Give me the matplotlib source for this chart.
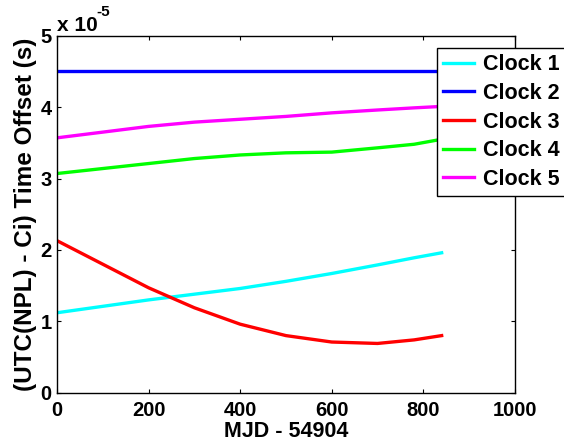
import numpy as np
import matplotlib.pyplot as plt
from matplotlib.ticker import FuncFormatter

plt.rcParams['font.family'] = ['Liberation Sans', 'DejaVu Sans']
plt.rcParams['font.weight'] = 'bold'

# days since MJD 54904
days = [0, 100, 200, 300, 400, 500, 600, 700, 780, 840]
# time offsets in units of 1e-5 s
clock1 = [1.12, 1.21, 1.30, 1.38, 1.46, 1.56, 1.67, 1.79, 1.89, 1.96]
clock2 = [4.50, 4.50, 4.50, 4.50, 4.50, 4.50, 4.50, 4.50, 4.50, 4.50]
clock3 = [2.13, 1.80, 1.47, 1.19, 0.96, 0.80, 0.71, 0.69, 0.74, 0.80]
clock4 = [3.07, 3.14, 3.21, 3.28, 3.33, 3.36, 3.37, 3.43, 3.48, 3.55]
clock5 = [3.57, 3.65, 3.73, 3.79, 3.83, 3.87, 3.92, 3.96, 3.99, 4.01]
labels = ['Clock 1', 'Clock 2', 'Clock 3', 'Clock 4', 'Clock 5']
colors = ['#00ffff', '#0000ff', '#ff0000', '#00ff00', '#ff00ff']

scale = 1e-5

fig = plt.figure(figsize=(5.64, 4.44), dpi=100)
ax = fig.add_axes([0.101, 0.1155, 0.812, 0.804])

for vals, lab, col in zip([clock1, clock2, clock3, clock4, clock5], labels, colors):
    ax.plot(days, np.array(vals) * scale, color=col, lw=2.4, label=lab)

ax.set_xlim(0, 1000)
ax.set_ylim(0, 5 * scale)
ax.set_xticks([0, 200, 400, 600, 800, 1000])
ax.set_yticks(np.arange(0, 6) * scale)
ax.yaxis.set_major_formatter(FuncFormatter(lambda v, p: '%d' % round(v / scale)))
ax.tick_params(direction='in', top=True, right=True, length=3, width=0.8,
               labelsize=14.5)
ax.tick_params(axis='x', pad=6)
ax.tick_params(axis='y', pad=4)
for s in ax.spines.values():
    s.set_linewidth(1.0)

ax.set_xlabel('MJD - 54904', fontsize=15.5, fontweight='bold', labelpad=1)
ax.set_ylabel('(UTC(NPL) - Ci) Time Offset (s)', fontsize=17.5, fontweight='bold', labelpad=2)

# MATLAB-style exponent label
ax.annotate('x 10', xy=(0, 1), xycoords='axes fraction', xytext=(0, 5),
            textcoords='offset pixels', fontsize=15, fontweight='bold',
            ha='left', va='baseline')
ax.annotate('-5', xy=(0, 1), xycoords='axes fraction', xytext=(39, 20),
            textcoords='offset pixels', fontsize=11, fontweight='bold',
            ha='left', va='baseline')

leg = ax.legend(loc='upper left', bbox_to_anchor=(437 / 564, 1 - 48 / 444),
                bbox_transform=fig.transFigure, fontsize=15.5, fancybox=False,
                framealpha=1, edgecolor='black', handlelength=1.4,
                borderpad=0.3, labelspacing=0.35, handletextpad=0.45,
                borderaxespad=0)
leg.get_frame().set_linewidth(1.0)

fig.savefig('out.png', dpi=100)
